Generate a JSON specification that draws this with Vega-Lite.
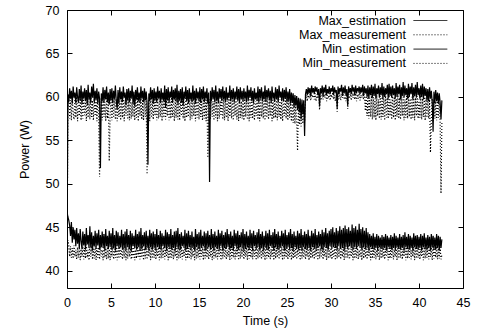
{
"$schema":"https://vega.github.io/schema/vega-lite/v6.json",
"width":396,"height":278,
"autosize":{"type":"none"},
"padding":{"left":67,"top":10,"right":15,"bottom":45},
"background":"white",
"config":{"font":"Liberation Sans","view":{"stroke":"black","strokeWidth":1},
"axis":{"grid":false,"domain":false,"tickColor":"black","tickSize":-5,"labelColor":"black","labelFontSize":12.5,"labelFont":"Liberation Sans","titleFont":"Liberation Sans","titleFontSize":12.5,"titleFontWeight":"normal","titleColor":"black"}},
"data":{"values":[
{"t":0.0,"a":40.5,"b":40.0,"c":46.8,"d":40.3},
{"t":0.1,"a":60.3,"b":58.0,"c":46.2,"d":43.5},
{"t":0.2,"a":59.4,"b":60.0,"c":45.8,"d":43.0},
{"t":0.3,"a":61.0,"b":57.5,"c":45.2,"d":41.6},
{"t":0.4,"a":59.8,"b":59.6,"c":44.0,"d":42.8},
{"t":0.5,"a":60.7,"b":57.3,"c":45.6,"d":41.5},
{"t":0.6,"a":59.2,"b":60.1,"c":43.2,"d":42.6},
{"t":0.7,"a":61.2,"b":58.2,"c":45.0,"d":41.4},
{"t":0.8,"a":59.9,"b":57.4,"c":43.6,"d":42.9},
{"t":0.9,"a":60.5,"b":59.9,"c":44.7,"d":41.6},
{"t":1.0,"a":59.3,"b":57.6,"c":42.8,"d":42.4},
{"t":1.1,"a":61.1,"b":60.2,"c":44.9,"d":41.3},
{"t":1.2,"a":60.0,"b":57.2,"c":43.1,"d":42.7},
{"t":1.3,"a":59.4,"b":59.5,"c":44.3,"d":41.5},
{"t":1.4,"a":60.9,"b":57.8,"c":42.6,"d":42.9},
{"t":1.5,"a":59.6,"b":60.0,"c":44.8,"d":41.2},
{"t":1.6,"a":61.3,"b":57.3,"c":43.4,"d":42.5},
{"t":1.7,"a":59.2,"b":59.7,"c":42.5,"d":41.6},
{"t":1.8,"a":60.6,"b":57.5,"c":44.5,"d":42.8},
{"t":1.9,"a":59.8,"b":60.3,"c":42.9,"d":41.3},
{"t":2.0,"a":61.0,"b":57.9,"c":44.2,"d":42.6},
{"t":2.1,"a":59.5,"b":59.4,"c":42.4,"d":41.4},
{"t":2.2,"a":60.8,"b":57.2,"c":44.9,"d":43.0},
{"t":2.3,"a":59.1,"b":60.1,"c":43.0,"d":41.5},
{"t":2.4,"a":61.4,"b":57.6,"c":44.1,"d":42.4},
{"t":2.5,"a":59.7,"b":59.8,"c":42.6,"d":41.2},
{"t":2.6,"a":60.5,"b":57.4,"c":45.1,"d":42.7},
{"t":2.7,"a":59.3,"b":60.2,"c":42.7,"d":41.6},
{"t":2.8,"a":61.2,"b":57.7,"c":44.4,"d":42.9},
{"t":2.9,"a":59.9,"b":59.6,"c":42.3,"d":41.3},
{"t":3.0,"a":61.5,"b":57.3,"c":44.0,"d":42.5},
{"t":3.1,"a":59.4,"b":60.0,"c":42.8,"d":41.4},
{"t":3.2,"a":60.7,"b":57.8,"c":44.6,"d":42.8},
{"t":3.3,"a":59.6,"b":59.5,"c":42.5,"d":41.2},
{"t":3.4,"a":61.0,"b":57.2,"c":44.3,"d":42.6},
{"t":3.5,"a":59.2,"b":60.2,"c":42.9,"d":41.5},
{"t":3.6,"a":60.6,"b":57.5,"c":44.7,"d":42.7},
{"t":3.7,"a":59.8,"b":50.8,"c":42.4,"d":41.3},
{"t":3.8,"a":51.8,"b":57.6,"c":44.1,"d":42.9},
{"t":3.9,"a":60.4,"b":59.9,"c":42.7,"d":41.6},
{"t":4.0,"a":59.5,"b":57.3,"c":44.5,"d":42.4},
{"t":4.1,"a":61.1,"b":60.1,"c":42.6,"d":41.2},
{"t":4.2,"a":59.3,"b":57.7,"c":44.2,"d":42.8},
{"t":4.3,"a":60.8,"b":59.4,"c":42.3,"d":41.5},
{"t":4.4,"a":59.7,"b":57.2,"c":44.8,"d":42.6},
{"t":4.5,"a":61.2,"b":60.0,"c":42.8,"d":41.3},
{"t":4.6,"a":59.4,"b":57.5,"c":44.0,"d":42.9},
{"t":4.7,"a":60.5,"b":59.7,"c":42.5,"d":41.4},
{"t":4.8,"a":59.1,"b":52.6,"c":44.6,"d":42.5},
{"t":4.9,"a":60.9,"b":57.8,"c":42.7,"d":41.2},
{"t":5.0,"a":59.6,"b":60.2,"c":44.3,"d":42.7},
{"t":5.1,"a":61.0,"b":57.3,"c":42.4,"d":41.6},
{"t":5.2,"a":59.3,"b":59.6,"c":44.9,"d":42.8},
{"t":5.3,"a":60.7,"b":57.6,"c":42.6,"d":41.3},
{"t":5.4,"a":59.8,"b":60.1,"c":44.1,"d":42.5},
{"t":5.5,"a":61.3,"b":57.4,"c":42.3,"d":41.5},
{"t":5.6,"a":59.5,"b":59.8,"c":44.6,"d":42.9},
{"t":5.7,"a":58.6,"b":57.2,"c":42.8,"d":41.2},
{"t":5.8,"a":60.8,"b":60.0,"c":44.4,"d":42.6},
{"t":5.9,"a":59.2,"b":57.7,"c":42.5,"d":41.4},
{"t":6.0,"a":61.1,"b":59.5,"c":44.0,"d":42.8},
{"t":6.1,"a":59.7,"b":57.3,"c":42.7,"d":41.6},
{"t":6.2,"a":60.6,"b":60.2,"c":44.7,"d":42.4},
{"t":6.3,"a":59.4,"b":57.6,"c":42.4,"d":41.3},
{"t":6.4,"a":61.2,"b":59.9,"c":44.2,"d":42.7},
{"t":6.5,"a":59.9,"b":57.2,"c":42.6,"d":41.5},
{"t":6.6,"a":60.5,"b":59.6,"c":44.5,"d":42.9},
{"t":6.7,"a":59.1,"b":57.8,"c":42.3,"d":41.2},
{"t":6.8,"a":60.9,"b":60.1,"c":44.8,"d":42.5},
{"t":6.9,"a":59.6,"b":57.4,"c":42.7,"d":41.4},
{"t":7.0,"a":61.0,"b":59.7,"c":44.1,"d":42.8},
{"t":7.1,"a":59.4,"b":57.3,"c":42.5,"d":41.6},
{"t":7.2,"a":60.7,"b":60.0,"c":44.6,"d":42.6},
{"t":7.3,"a":59.8,"b":57.5,"c":42.2,"d":41.3},
{"t":7.4,"a":61.3,"b":59.4,"c":44.3,"d":42.7},
{"t":7.5,"a":59.2,"b":57.7,"c":42.8,"d":41.5},
{"t":7.6,"a":60.6,"b":60.2,"c":44.0,"d":42.9},
{"t":7.7,"a":58.9,"b":57.3,"c":42.6,"d":41.2},
{"t":7.8,"a":60.8,"b":59.8,"c":44.7,"d":42.4},
{"t":7.9,"a":59.7,"b":57.6,"c":42.4,"d":41.4},
{"t":8.0,"a":61.1,"b":60.1,"c":44.2,"d":42.8},
{"t":8.1,"a":59.5,"b":57.2,"c":42.7,"d":41.6},
{"t":8.2,"a":60.5,"b":59.6,"c":44.5,"d":42.5},
{"t":8.3,"a":59.3,"b":57.8,"c":42.3,"d":41.3},
{"t":8.4,"a":61.2,"b":60.0,"c":44.9,"d":42.7},
{"t":8.5,"a":59.8,"b":57.4,"c":42.5,"d":41.5},
{"t":8.6,"a":60.7,"b":59.7,"c":44.1,"d":42.9},
{"t":8.7,"a":59.4,"b":57.3,"c":42.8,"d":41.2},
{"t":8.8,"a":61.0,"b":60.2,"c":44.4,"d":42.6},
{"t":8.9,"a":59.6,"b":57.7,"c":42.4,"d":41.4},
{"t":9.0,"a":60.6,"b":59.5,"c":44.6,"d":42.8},
{"t":9.1,"a":59.3,"b":51.1,"c":42.6,"d":41.3},
{"t":9.2,"a":52.2,"b":57.5,"c":44.0,"d":42.5},
{"t":9.3,"a":60.4,"b":59.9,"c":42.3,"d":41.6},
{"t":9.4,"a":59.5,"b":57.2,"c":44.7,"d":42.7},
{"t":9.5,"a":61.1,"b":60.1,"c":42.7,"d":41.2},
{"t":9.6,"a":59.7,"b":57.6,"c":44.3,"d":42.9},
{"t":9.7,"a":60.8,"b":59.6,"c":42.4,"d":41.4},
{"t":9.8,"a":59.2,"b":57.4,"c":44.5,"d":42.6},
{"t":9.9,"a":61.0,"b":60.0,"c":42.6,"d":41.5},
{"t":10.0,"a":59.6,"b":57.8,"c":44.2,"d":42.8},
{"t":10.1,"a":60.6,"b":59.7,"c":42.3,"d":41.3},
{"t":10.2,"a":59.4,"b":57.3,"c":44.8,"d":42.5},
{"t":10.3,"a":61.2,"b":60.2,"c":42.7,"d":41.6},
{"t":10.4,"a":59.8,"b":57.5,"c":44.1,"d":42.7},
{"t":10.5,"a":60.7,"b":59.5,"c":42.5,"d":41.2},
{"t":10.6,"a":59.3,"b":57.7,"c":44.6,"d":42.9},
{"t":10.7,"a":61.0,"b":60.1,"c":42.4,"d":41.4},
{"t":10.8,"a":59.7,"b":57.2,"c":44.3,"d":42.6},
{"t":10.9,"a":60.5,"b":59.8,"c":42.8,"d":41.5},
{"t":11.0,"a":59.5,"b":57.6,"c":44.0,"d":42.8},
{"t":11.1,"a":61.3,"b":60.0,"c":42.6,"d":41.3},
{"t":11.2,"a":58.8,"b":57.4,"c":44.7,"d":42.4},
{"t":11.3,"a":60.9,"b":59.6,"c":42.3,"d":41.6},
{"t":11.4,"a":59.6,"b":57.8,"c":44.4,"d":42.7},
{"t":11.5,"a":61.1,"b":60.2,"c":42.7,"d":41.2},
{"t":11.6,"a":59.4,"b":57.3,"c":44.2,"d":42.9},
{"t":11.7,"a":60.6,"b":59.7,"c":42.5,"d":41.4},
{"t":11.8,"a":59.9,"b":57.5,"c":44.8,"d":42.6},
{"t":11.9,"a":61.2,"b":60.1,"c":42.4,"d":41.5},
{"t":12.0,"a":59.3,"b":57.7,"c":44.1,"d":42.8},
{"t":12.1,"a":60.8,"b":59.5,"c":42.6,"d":41.3},
{"t":12.2,"a":59.7,"b":57.2,"c":44.5,"d":42.5},
{"t":12.3,"a":61.0,"b":60.0,"c":42.3,"d":41.6},
{"t":12.4,"a":59.5,"b":57.6,"c":44.6,"d":42.7},
{"t":12.5,"a":61.4,"b":59.8,"c":42.7,"d":41.2},
{"t":12.6,"a":59.2,"b":57.4,"c":44.9,"d":42.9},
{"t":12.7,"a":60.7,"b":60.2,"c":42.5,"d":41.4},
{"t":12.8,"a":59.6,"b":57.3,"c":44.2,"d":42.6},
{"t":12.9,"a":60.9,"b":59.6,"c":42.4,"d":41.5},
{"t":13.0,"a":59.4,"b":57.8,"c":44.4,"d":42.8},
{"t":13.1,"a":61.1,"b":60.1,"c":42.8,"d":41.3},
{"t":13.2,"a":59.0,"b":57.5,"c":44.0,"d":42.4},
{"t":13.3,"a":60.6,"b":59.7,"c":42.6,"d":41.6},
{"t":13.4,"a":59.8,"b":57.2,"c":44.7,"d":42.7},
{"t":13.5,"a":61.2,"b":60.0,"c":42.3,"d":41.2},
{"t":13.6,"a":59.5,"b":57.6,"c":44.3,"d":42.9},
{"t":13.7,"a":60.8,"b":59.4,"c":42.5,"d":41.4},
{"t":13.8,"a":59.3,"b":57.7,"c":44.6,"d":42.6},
{"t":13.9,"a":61.0,"b":60.2,"c":42.7,"d":41.5},
{"t":14.0,"a":59.7,"b":57.3,"c":44.1,"d":42.8},
{"t":14.1,"a":60.5,"b":59.8,"c":42.4,"d":41.3},
{"t":14.2,"a":59.4,"b":57.5,"c":44.5,"d":42.5},
{"t":14.3,"a":61.3,"b":60.1,"c":42.6,"d":41.6},
{"t":14.4,"a":59.6,"b":57.8,"c":43.9,"d":42.7},
{"t":14.5,"a":60.7,"b":59.5,"c":42.3,"d":41.2},
{"t":14.6,"a":59.2,"b":57.2,"c":44.8,"d":42.9},
{"t":14.7,"a":61.0,"b":60.0,"c":42.7,"d":41.4},
{"t":14.8,"a":59.8,"b":57.6,"c":44.2,"d":42.6},
{"t":14.9,"a":60.6,"b":59.7,"c":42.5,"d":41.5},
{"t":15.0,"a":59.5,"b":57.4,"c":44.4,"d":42.8},
{"t":15.1,"a":61.1,"b":60.2,"c":42.4,"d":41.3},
{"t":15.2,"a":59.3,"b":57.7,"c":44.7,"d":42.5},
{"t":15.3,"a":60.9,"b":59.6,"c":42.6,"d":41.6},
{"t":15.4,"a":59.7,"b":57.3,"c":44.0,"d":42.7},
{"t":15.5,"a":61.2,"b":60.1,"c":42.8,"d":41.2},
{"t":15.6,"a":59.4,"b":57.5,"c":44.5,"d":42.9},
{"t":15.7,"a":60.6,"b":59.8,"c":42.3,"d":41.4},
{"t":15.8,"a":59.8,"b":57.2,"c":44.3,"d":42.6},
{"t":15.9,"a":61.0,"b":60.0,"c":42.5,"d":41.5},
{"t":16.0,"a":59.2,"b":53.0,"c":44.6,"d":42.8},
{"t":16.1,"a":60.5,"b":57.6,"c":42.7,"d":41.3},
{"t":16.2,"a":50.2,"b":59.7,"c":44.1,"d":42.4},
{"t":16.3,"a":60.7,"b":57.4,"c":42.4,"d":41.6},
{"t":16.4,"a":59.5,"b":60.2,"c":44.8,"d":42.7},
{"t":16.5,"a":61.1,"b":57.7,"c":42.6,"d":41.2},
{"t":16.6,"a":59.7,"b":59.5,"c":44.2,"d":42.9},
{"t":16.7,"a":60.8,"b":57.3,"c":42.3,"d":41.4},
{"t":16.8,"a":59.4,"b":60.1,"c":44.5,"d":42.6},
{"t":16.9,"a":61.3,"b":57.6,"c":42.7,"d":41.5},
{"t":17.0,"a":59.6,"b":59.8,"c":44.0,"d":42.8},
{"t":17.1,"a":60.6,"b":57.2,"c":42.5,"d":41.3},
{"t":17.2,"a":59.3,"b":60.0,"c":44.7,"d":42.5},
{"t":17.3,"a":61.0,"b":57.5,"c":42.4,"d":41.6},
{"t":17.4,"a":59.8,"b":59.6,"c":44.3,"d":42.7},
{"t":17.5,"a":60.9,"b":57.8,"c":42.8,"d":41.2},
{"t":17.6,"a":59.5,"b":60.2,"c":44.6,"d":42.9},
{"t":17.7,"a":61.2,"b":57.4,"c":42.3,"d":41.4},
{"t":17.8,"a":59.7,"b":59.7,"c":44.1,"d":42.6},
{"t":17.9,"a":60.7,"b":57.3,"c":42.6,"d":41.5},
{"t":18.0,"a":59.4,"b":60.1,"c":44.4,"d":42.8},
{"t":18.1,"a":61.1,"b":57.6,"c":42.5,"d":41.3},
{"t":18.2,"a":59.6,"b":59.5,"c":44.8,"d":42.4},
{"t":18.3,"a":60.5,"b":57.2,"c":42.7,"d":41.6},
{"t":18.4,"a":59.9,"b":60.0,"c":44.2,"d":42.7},
{"t":18.5,"a":61.3,"b":57.7,"c":42.4,"d":41.2},
{"t":18.6,"a":59.5,"b":59.8,"c":44.5,"d":42.9},
{"t":18.7,"a":60.8,"b":57.5,"c":42.6,"d":41.4},
{"t":18.8,"a":59.7,"b":60.2,"c":44.0,"d":42.6},
{"t":18.9,"a":61.0,"b":57.3,"c":42.3,"d":41.5},
{"t":19.0,"a":59.4,"b":59.6,"c":44.7,"d":42.8},
{"t":19.1,"a":60.6,"b":57.8,"c":42.8,"d":41.3},
{"t":19.2,"a":59.8,"b":60.1,"c":44.3,"d":42.5},
{"t":19.3,"a":61.2,"b":57.4,"c":42.5,"d":41.6},
{"t":19.4,"a":59.6,"b":59.7,"c":44.6,"d":42.7},
{"t":19.5,"a":60.9,"b":57.2,"c":42.4,"d":41.2},
{"t":19.6,"a":59.3,"b":60.0,"c":44.1,"d":42.9},
{"t":19.7,"a":61.1,"b":57.6,"c":42.7,"d":41.4},
{"t":19.8,"a":59.7,"b":59.5,"c":44.4,"d":42.6},
{"t":19.9,"a":60.7,"b":57.5,"c":42.6,"d":41.5},
{"t":20.0,"a":59.5,"b":60.2,"c":44.8,"d":42.8},
{"t":20.1,"a":61.0,"b":57.3,"c":42.3,"d":41.3},
{"t":20.2,"a":59.8,"b":59.8,"c":44.2,"d":42.4},
{"t":20.3,"a":60.6,"b":57.7,"c":42.5,"d":41.6},
{"t":20.4,"a":59.4,"b":60.1,"c":44.5,"d":42.7},
{"t":20.5,"a":61.3,"b":57.4,"c":42.7,"d":41.2},
{"t":20.6,"a":59.6,"b":59.6,"c":44.0,"d":42.9},
{"t":20.7,"a":60.8,"b":57.2,"c":42.4,"d":41.4},
{"t":20.8,"a":59.9,"b":60.0,"c":44.7,"d":42.6},
{"t":20.9,"a":61.1,"b":57.6,"c":42.6,"d":41.5},
{"t":21.0,"a":59.5,"b":59.7,"c":44.3,"d":42.8},
{"t":21.1,"a":60.7,"b":57.5,"c":42.3,"d":41.3},
{"t":21.2,"a":59.3,"b":60.2,"c":44.6,"d":42.5},
{"t":21.3,"a":61.0,"b":57.3,"c":42.8,"d":41.6},
{"t":21.4,"a":59.7,"b":59.5,"c":44.1,"d":42.7},
{"t":21.5,"a":60.5,"b":57.8,"c":42.5,"d":41.2},
{"t":21.6,"a":59.6,"b":60.1,"c":44.4,"d":42.9},
{"t":21.7,"a":61.2,"b":57.4,"c":42.7,"d":41.4},
{"t":21.8,"a":59.4,"b":59.8,"c":44.8,"d":42.6},
{"t":21.9,"a":60.9,"b":57.2,"c":42.4,"d":41.5},
{"t":22.0,"a":59.8,"b":60.0,"c":44.2,"d":42.8},
{"t":22.1,"a":61.1,"b":57.7,"c":42.6,"d":41.3},
{"t":22.2,"a":59.5,"b":59.6,"c":44.5,"d":42.4},
{"t":22.3,"a":60.6,"b":57.5,"c":42.3,"d":41.6},
{"t":22.4,"a":59.7,"b":60.2,"c":44.0,"d":42.7},
{"t":22.5,"a":61.3,"b":57.3,"c":42.7,"d":41.2},
{"t":22.6,"a":59.4,"b":59.7,"c":44.6,"d":42.9},
{"t":22.7,"a":60.8,"b":57.6,"c":42.5,"d":41.4},
{"t":22.8,"a":59.9,"b":60.1,"c":44.3,"d":42.6},
{"t":22.9,"a":61.0,"b":57.4,"c":42.4,"d":41.5},
{"t":23.0,"a":59.6,"b":59.5,"c":44.7,"d":42.8},
{"t":23.1,"a":60.7,"b":57.8,"c":42.8,"d":41.3},
{"t":23.2,"a":59.3,"b":60.0,"c":44.1,"d":42.5},
{"t":23.3,"a":61.2,"b":57.2,"c":42.6,"d":41.6},
{"t":23.4,"a":59.8,"b":59.8,"c":44.4,"d":42.7},
{"t":23.5,"a":60.5,"b":57.5,"c":42.3,"d":41.2},
{"t":23.6,"a":59.5,"b":60.2,"c":44.8,"d":42.9},
{"t":23.7,"a":61.1,"b":57.6,"c":42.7,"d":41.4},
{"t":23.8,"a":59.7,"b":59.6,"c":44.2,"d":42.6},
{"t":23.9,"a":60.9,"b":57.3,"c":42.5,"d":41.5},
{"t":24.0,"a":59.4,"b":60.1,"c":44.5,"d":42.8},
{"t":24.1,"a":61.3,"b":57.7,"c":42.4,"d":41.3},
{"t":24.2,"a":59.9,"b":59.7,"c":44.0,"d":42.4},
{"t":24.3,"a":60.6,"b":57.4,"c":42.6,"d":41.6},
{"t":24.4,"a":59.6,"b":60.0,"c":44.6,"d":42.7},
{"t":24.5,"a":61.0,"b":57.2,"c":42.8,"d":41.2},
{"t":24.6,"a":59.5,"b":59.5,"c":44.3,"d":42.9},
{"t":24.7,"a":60.8,"b":57.8,"c":42.3,"d":41.4},
{"t":24.8,"a":59.8,"b":60.2,"c":44.7,"d":42.6},
{"t":24.9,"a":61.1,"b":57.5,"c":42.5,"d":41.5},
{"t":25.0,"a":59.4,"b":59.8,"c":44.1,"d":42.8},
{"t":25.1,"a":60.6,"b":57.3,"c":42.7,"d":41.3},
{"t":25.2,"a":59.6,"b":59.9,"c":44.4,"d":42.5},
{"t":25.3,"a":60.9,"b":57.6,"c":42.4,"d":41.6},
{"t":25.4,"a":59.2,"b":59.6,"c":44.8,"d":42.7},
{"t":25.5,"a":60.5,"b":57.2,"c":42.6,"d":41.2},
{"t":25.6,"a":59.3,"b":59.4,"c":44.2,"d":42.9},
{"t":25.7,"a":60.4,"b":57.0,"c":42.3,"d":41.4},
{"t":25.8,"a":58.8,"b":59.5,"c":44.5,"d":42.6},
{"t":25.9,"a":60.2,"b":56.9,"c":42.7,"d":41.5},
{"t":26.0,"a":59.0,"b":59.3,"c":44.0,"d":42.8},
{"t":26.1,"a":60.1,"b":57.1,"c":42.5,"d":41.3},
{"t":26.2,"a":58.5,"b":53.8,"c":44.6,"d":42.4},
{"t":26.3,"a":59.9,"b":59.1,"c":42.4,"d":41.6},
{"t":26.4,"a":58.2,"b":56.8,"c":44.3,"d":42.7},
{"t":26.5,"a":59.8,"b":59.0,"c":42.6,"d":41.2},
{"t":26.6,"a":57.4,"b":56.6,"c":44.8,"d":42.9},
{"t":26.7,"a":59.7,"b":58.9,"c":42.3,"d":41.4},
{"t":26.8,"a":58.0,"b":56.9,"c":44.1,"d":42.6},
{"t":26.9,"a":59.6,"b":58.8,"c":42.7,"d":41.5},
{"t":27.0,"a":55.5,"b":57.2,"c":44.5,"d":42.8},
{"t":27.1,"a":60.3,"b":59.6,"c":42.5,"d":41.3},
{"t":27.2,"a":60.9,"b":60.2,"c":44.2,"d":42.5},
{"t":27.3,"a":60.2,"b":59.5,"c":42.4,"d":41.6},
{"t":27.4,"a":61.1,"b":60.4,"c":44.7,"d":42.7},
{"t":27.5,"a":60.4,"b":59.8,"c":42.6,"d":41.2},
{"t":27.6,"a":61.0,"b":60.3,"c":44.0,"d":42.9},
{"t":27.7,"a":60.1,"b":59.6,"c":42.3,"d":41.4},
{"t":27.8,"a":61.3,"b":60.5,"c":44.6,"d":42.6},
{"t":27.9,"a":60.5,"b":59.9,"c":42.7,"d":41.5},
{"t":28.0,"a":61.0,"b":60.2,"c":44.3,"d":42.8},
{"t":28.1,"a":60.3,"b":59.7,"c":42.5,"d":41.3},
{"t":28.2,"a":61.2,"b":60.4,"c":44.8,"d":42.4},
{"t":28.3,"a":60.6,"b":59.5,"c":42.4,"d":41.6},
{"t":28.4,"a":61.1,"b":60.3,"c":44.1,"d":42.7},
{"t":28.5,"a":60.2,"b":59.8,"c":42.6,"d":41.2},
{"t":28.6,"a":60.9,"b":60.5,"c":44.5,"d":42.9},
{"t":28.7,"a":58.9,"b":58.5,"c":42.8,"d":41.4},
{"t":28.8,"a":61.0,"b":60.1,"c":44.2,"d":42.6},
{"t":28.9,"a":60.4,"b":59.6,"c":42.5,"d":41.5},
{"t":29.0,"a":61.3,"b":60.4,"c":44.7,"d":42.8},
{"t":29.1,"a":60.1,"b":59.7,"c":42.3,"d":41.3},
{"t":29.2,"a":61.1,"b":60.3,"c":44.4,"d":42.5},
{"t":29.3,"a":60.5,"b":59.9,"c":42.7,"d":41.6},
{"t":29.4,"a":61.4,"b":60.6,"c":44.9,"d":42.7},
{"t":29.5,"a":60.2,"b":59.5,"c":42.6,"d":41.2},
{"t":29.6,"a":60.9,"b":60.2,"c":44.3,"d":42.9},
{"t":29.7,"a":60.4,"b":59.8,"c":42.4,"d":41.4},
{"t":29.8,"a":61.2,"b":60.4,"c":44.6,"d":42.6},
{"t":29.9,"a":60.3,"b":59.6,"c":42.8,"d":41.5},
{"t":30.0,"a":61.0,"b":60.3,"c":44.8,"d":42.8},
{"t":30.1,"a":60.6,"b":59.9,"c":42.5,"d":41.3},
{"t":30.2,"a":61.3,"b":60.5,"c":45.0,"d":42.4},
{"t":30.3,"a":60.2,"b":59.7,"c":42.7,"d":41.6},
{"t":30.4,"a":61.1,"b":60.2,"c":44.4,"d":42.7},
{"t":30.5,"a":60.5,"b":59.5,"c":42.6,"d":41.2},
{"t":30.6,"a":60.8,"b":60.4,"c":44.9,"d":42.9},
{"t":30.7,"a":58.7,"b":58.3,"c":42.4,"d":41.4},
{"t":30.8,"a":61.2,"b":60.1,"c":44.6,"d":42.6},
{"t":30.9,"a":60.3,"b":59.8,"c":42.8,"d":41.5},
{"t":31.0,"a":61.0,"b":60.5,"c":45.1,"d":42.8},
{"t":31.1,"a":60.6,"b":59.6,"c":42.5,"d":41.3},
{"t":31.2,"a":61.4,"b":60.3,"c":44.7,"d":42.5},
{"t":31.3,"a":60.1,"b":59.9,"c":42.6,"d":41.6},
{"t":31.4,"a":61.1,"b":60.4,"c":44.9,"d":42.7},
{"t":31.5,"a":60.4,"b":59.7,"c":42.3,"d":41.2},
{"t":31.6,"a":61.3,"b":60.2,"c":45.2,"d":42.9},
{"t":31.7,"a":60.2,"b":59.5,"c":42.7,"d":41.4},
{"t":31.8,"a":60.9,"b":60.6,"c":44.8,"d":42.6},
{"t":31.9,"a":59.0,"b":58.6,"c":42.5,"d":41.5},
{"t":32.0,"a":61.2,"b":60.3,"c":45.0,"d":43.0},
{"t":32.1,"a":60.5,"b":59.8,"c":42.8,"d":41.3},
{"t":32.2,"a":61.0,"b":60.4,"c":44.6,"d":42.5},
{"t":32.3,"a":60.3,"b":59.6,"c":42.6,"d":41.6},
{"t":32.4,"a":61.4,"b":60.5,"c":45.3,"d":42.7},
{"t":32.5,"a":60.6,"b":59.9,"c":42.4,"d":41.2},
{"t":32.6,"a":61.1,"b":60.2,"c":44.9,"d":42.9},
{"t":32.7,"a":60.2,"b":59.7,"c":42.7,"d":41.4},
{"t":32.8,"a":61.3,"b":60.4,"c":45.1,"d":42.6},
{"t":32.9,"a":60.4,"b":59.5,"c":42.5,"d":41.5},
{"t":33.0,"a":61.0,"b":60.3,"c":44.7,"d":42.8},
{"t":33.1,"a":60.7,"b":59.8,"c":42.8,"d":41.3},
{"t":33.2,"a":61.2,"b":60.6,"c":45.4,"d":42.4},
{"t":33.3,"a":60.3,"b":59.6,"c":42.6,"d":41.6},
{"t":33.4,"a":61.1,"b":60.2,"c":44.8,"d":42.7},
{"t":33.5,"a":60.5,"b":59.9,"c":42.4,"d":41.2},
{"t":33.6,"a":61.4,"b":60.4,"c":45.0,"d":42.9},
{"t":33.7,"a":60.1,"b":59.7,"c":42.7,"d":41.4},
{"t":33.8,"a":61.2,"b":60.3,"c":44.6,"d":42.6},
{"t":33.9,"a":60.4,"b":58.4,"c":42.5,"d":41.5},
{"t":34.0,"a":61.0,"b":60.1,"c":44.9,"d":42.8},
{"t":34.1,"a":60.0,"b":57.8,"c":42.6,"d":41.3},
{"t":34.2,"a":61.3,"b":60.2,"c":44.4,"d":42.5},
{"t":34.3,"a":59.8,"b":57.5,"c":42.3,"d":41.6},
{"t":34.4,"a":61.1,"b":59.9,"c":44.2,"d":42.7},
{"t":34.5,"a":60.2,"b":57.7,"c":42.7,"d":41.2},
{"t":34.6,"a":61.4,"b":60.3,"c":44.0,"d":42.9},
{"t":34.7,"a":59.9,"b":57.4,"c":42.5,"d":41.4},
{"t":34.8,"a":61.2,"b":60.0,"c":44.3,"d":42.6},
{"t":34.9,"a":60.1,"b":57.6,"c":42.4,"d":41.5},
{"t":35.0,"a":61.5,"b":59.8,"c":43.9,"d":42.8},
{"t":35.1,"a":59.8,"b":57.3,"c":42.6,"d":41.3},
{"t":35.2,"a":61.0,"b":60.2,"c":44.2,"d":42.4},
{"t":35.3,"a":60.3,"b":57.8,"c":42.3,"d":41.6},
{"t":35.4,"a":61.3,"b":59.7,"c":44.0,"d":42.7},
{"t":35.5,"a":59.9,"b":57.5,"c":42.7,"d":41.2},
{"t":35.6,"a":61.1,"b":60.1,"c":43.8,"d":42.9},
{"t":35.7,"a":60.2,"b":57.4,"c":42.5,"d":41.4},
{"t":35.8,"a":61.6,"b":60.0,"c":44.1,"d":42.6},
{"t":35.9,"a":59.7,"b":57.7,"c":42.4,"d":41.5},
{"t":36.0,"a":61.2,"b":59.8,"c":43.9,"d":42.8},
{"t":36.1,"a":60.0,"b":57.3,"c":42.6,"d":41.3},
{"t":36.2,"a":61.0,"b":60.3,"c":44.2,"d":42.5},
{"t":36.3,"a":60.3,"b":57.6,"c":42.3,"d":41.6},
{"t":36.4,"a":61.4,"b":59.9,"c":44.0,"d":42.7},
{"t":36.5,"a":59.8,"b":57.5,"c":42.7,"d":41.2},
{"t":36.6,"a":61.5,"b":60.2,"c":43.8,"d":42.9},
{"t":36.7,"a":60.1,"b":57.8,"c":42.5,"d":41.4},
{"t":36.8,"a":61.2,"b":59.7,"c":44.1,"d":42.6},
{"t":36.9,"a":59.9,"b":57.4,"c":42.4,"d":41.5},
{"t":37.0,"a":61.3,"b":60.1,"c":43.9,"d":42.8},
{"t":37.1,"a":60.2,"b":57.6,"c":42.6,"d":41.3},
{"t":37.2,"a":61.0,"b":60.0,"c":44.3,"d":42.4},
{"t":37.3,"a":59.8,"b":57.3,"c":42.3,"d":41.6},
{"t":37.4,"a":61.6,"b":59.8,"c":44.0,"d":42.7},
{"t":37.5,"a":60.0,"b":57.7,"c":42.7,"d":41.2},
{"t":37.6,"a":61.2,"b":60.3,"c":43.8,"d":42.9},
{"t":37.7,"a":60.3,"b":57.5,"c":42.5,"d":41.4},
{"t":37.8,"a":61.4,"b":59.9,"c":44.2,"d":42.6},
{"t":37.9,"a":59.7,"b":57.4,"c":42.4,"d":41.5},
{"t":38.0,"a":61.1,"b":60.2,"c":43.9,"d":42.8},
{"t":38.1,"a":60.1,"b":57.8,"c":42.6,"d":41.3},
{"t":38.2,"a":61.7,"b":60.0,"c":44.1,"d":42.5},
{"t":38.3,"a":59.9,"b":57.3,"c":42.3,"d":41.6},
{"t":38.4,"a":61.3,"b":59.7,"c":44.4,"d":42.7},
{"t":38.5,"a":60.2,"b":57.6,"c":42.7,"d":41.2},
{"t":38.6,"a":61.0,"b":60.1,"c":43.9,"d":42.9},
{"t":38.7,"a":59.8,"b":57.5,"c":42.5,"d":41.4},
{"t":38.8,"a":61.5,"b":60.3,"c":44.2,"d":42.6},
{"t":38.9,"a":60.0,"b":57.7,"c":42.4,"d":41.5},
{"t":39.0,"a":61.2,"b":59.8,"c":44.0,"d":42.8},
{"t":39.1,"a":60.3,"b":57.4,"c":42.6,"d":41.3},
{"t":39.2,"a":61.6,"b":60.0,"c":43.8,"d":42.4},
{"t":39.3,"a":59.7,"b":57.6,"c":42.3,"d":41.6},
{"t":39.4,"a":61.1,"b":60.2,"c":44.3,"d":42.7},
{"t":39.5,"a":60.1,"b":57.3,"c":42.7,"d":41.2},
{"t":39.6,"a":61.4,"b":59.9,"c":44.0,"d":42.9},
{"t":39.7,"a":59.9,"b":57.8,"c":42.5,"d":41.4},
{"t":39.8,"a":61.7,"b":60.1,"c":44.1,"d":42.6},
{"t":39.9,"a":60.2,"b":57.5,"c":42.4,"d":41.5},
{"t":40.0,"a":61.0,"b":59.7,"c":43.9,"d":42.8},
{"t":40.1,"a":59.8,"b":57.6,"c":42.6,"d":41.3},
{"t":40.2,"a":61.3,"b":60.2,"c":44.2,"d":42.5},
{"t":40.3,"a":60.0,"b":57.4,"c":42.3,"d":41.6},
{"t":40.4,"a":61.5,"b":59.8,"c":44.0,"d":42.7},
{"t":40.5,"a":59.7,"b":57.7,"c":42.7,"d":41.2},
{"t":40.6,"a":61.2,"b":60.0,"c":44.3,"d":42.9},
{"t":40.7,"a":60.1,"b":57.3,"c":42.5,"d":41.4},
{"t":40.8,"a":61.0,"b":59.9,"c":43.8,"d":42.6},
{"t":40.9,"a":59.6,"b":57.6,"c":42.4,"d":41.5},
{"t":41.0,"a":60.9,"b":60.1,"c":44.1,"d":42.8},
{"t":41.1,"a":59.5,"b":57.5,"c":42.6,"d":41.3},
{"t":41.2,"a":61.1,"b":59.7,"c":43.9,"d":42.5},
{"t":41.3,"a":59.8,"b":53.6,"c":42.3,"d":41.6},
{"t":41.4,"a":60.7,"b":57.4,"c":44.2,"d":42.7},
{"t":41.5,"a":59.4,"b":59.8,"c":42.7,"d":41.2},
{"t":41.6,"a":56.0,"b":57.2,"c":44.0,"d":42.9},
{"t":41.7,"a":60.6,"b":59.6,"c":42.5,"d":41.4},
{"t":41.8,"a":59.3,"b":57.5,"c":43.8,"d":42.6},
{"t":41.9,"a":60.8,"b":59.5,"c":42.4,"d":41.5},
{"t":42.0,"a":59.5,"b":57.3,"c":44.2,"d":42.8},
{"t":42.1,"a":60.5,"b":59.7,"c":42.6,"d":41.3},
{"t":42.2,"a":59.2,"b":57.6,"c":44.0,"d":42.6},
{"t":42.3,"a":60.4,"b":59.4,"c":42.3,"d":41.4},
{"t":42.4,"a":59.4,"b":57.2,"c":43.9,"d":42.7},
{"t":42.5,"a":57.4,"b":48.9,"c":42.6,"d":41.3},
{"t":42.6,"a":59.6,"b":57.0,"c":43.6,"d":41.8}
]},
"transform":[{"fold":["a","b","c","d"],"as":["series","power"]}],
"layer":[
{"mark":{"type":"line","strokeWidth":1.2,"clip":true},
"encoding":{
"x":{"field":"t","type":"quantitative","scale":{"domain":[0,45],"nice":false},"axis":{"orient":"bottom","title":"Time (s)","values":[0,5,10,15,20,25,30,35,40,45],"labelPadding":13,"titlePadding":6,"labelFlush":false}},
"y":{"field":"power","type":"quantitative","scale":{"domain":[38,70],"nice":false,"zero":false},"axis":{"orient":"left","title":"Power (W)","values":[40,45,50,55,60,65,70],"labelPadding":13,"titlePadding":14,"labelFlush":false}},
"color":{"field":"series","type":"nominal","scale":{"domain":["a","b","c","d"],"range":["black","black","black","black"]},
"legend":{"title":null,"orient":"none","legendX":356.4,"legendY":3.5,"symbolType":"M-2.6,0L2.6,0","symbolSize":169,"symbolStrokeWidth":1,"symbolStrokeColor":"black","symbolFillColor":"transparent","labelAlign":"right","labelOffset":-31.4,"labelFontSize":12.5,"labelColor":"black","rowPadding":0.3,"labelExpr":"datum.label=='a'?'Max_estimation':datum.label=='b'?'Max_measurement':datum.label=='c'?'Min_estimation':'Min_measurement'"}},
"strokeDash":{"field":"series","type":"nominal","scale":{"domain":["a","b","c","d"],"range":[[1,0],[1,2],[1,0],[1,2]]},
"legend":{"title":null,"orient":"none","legendX":356.4,"legendY":3.5,"symbolType":"M-2.6,0L2.6,0","symbolSize":169,"symbolStrokeWidth":1,"symbolStrokeColor":"black","symbolFillColor":"transparent","labelAlign":"right","labelOffset":-31.4,"labelFontSize":12.5,"labelColor":"black","rowPadding":0.3,"labelExpr":"datum.label=='a'?'Max_estimation':datum.label=='b'?'Max_measurement':datum.label=='c'?'Min_estimation':'Min_measurement'"}}
}},
{"mark":{"type":"point","opacity":0},
"encoding":{
"x":{"field":"t","type":"quantitative","scale":{"domain":[0,45],"nice":false},"axis":{"orient":"top","title":null,"labels":false,"values":[0,5,10,15,20,25,30,35,40,45]}},
"y":{"field":"power","type":"quantitative","scale":{"domain":[38,70],"nice":false,"zero":false},"axis":{"orient":"right","title":null,"labels":false,"values":[40,45,50,55,60,65,70]}}
}}
]
}
